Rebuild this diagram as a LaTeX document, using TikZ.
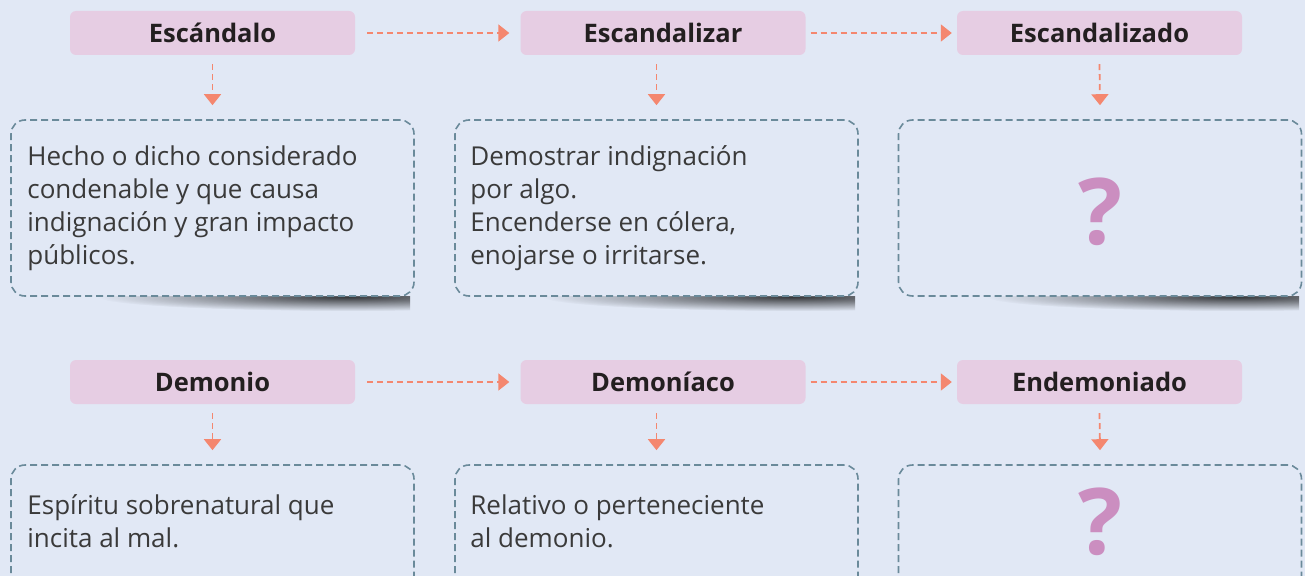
\documentclass[tikz,border=0pt]{standalone}
\usepackage{fontspec}
\setmainfont{Open Sans}
\usetikzlibrary{arrows.meta,fadings}
\definecolor{bg}{HTML}{E1E8F5}
\definecolor{hdr}{HTML}{E6CDE3}
\definecolor{arr}{HTML}{F4876F}
\definecolor{bord}{HTML}{6A8A9A}
\definecolor{qm}{HTML}{CB8EC0}
\definecolor{txt}{HTML}{3A3A3A}
\definecolor{htxt}{HTML}{231F20}
\tikzfading[name=shfade, inner color=transparent!0, outer color=transparent!100]
\begin{document}
\begin{tikzpicture}[x=1pt,y=-1pt,
  hdrbox/.style={fill=hdr, rounded corners=6pt, minimum width=285pt, minimum height=44pt,
    inner sep=0pt, text=htxt, font=\bfseries\fontsize{25.5}{30}\selectfont},
  descbox/.style={draw=bord, fill=bg, line width=1.6pt, dash pattern=on 7pt off 4pt,
    rounded corners=14pt, minimum width=403pt, minimum height=176pt, inner sep=0pt},
  desctext/.style={anchor=north west, inner sep=0pt, align=left, text=txt,
    font=\fontsize{26}{33}\selectfont},
  qmark/.style={text=qm, inner sep=0pt, font=\bfseries\fontsize{92}{92}\selectfont},
  flow/.style={draw=arr, line width=1.8pt, dash pattern=on 6pt off 4pt,
    -{Triangle[width=17pt,length=11pt]}},
  shadowfill/.style={fill=black, opacity=0.75, path fading=shfade}
]
\path[use as bounding box] (0,0) rectangle (1305,575);
\clip (-2,-2) rectangle (1307,577);
\fill[bg] (-2,-2) rectangle (1307,577);

% headers
\node[hdrbox] (h1) at (212.5,33) {Escándalo};
\node[hdrbox] (h2) at (663,33) {Escandalizar};
\node[hdrbox] (h3) at (1099.5,33) {Escandalizado};
\node[hdrbox] (h4) at (212.5,382) {Demonio};
\node[hdrbox] (h5) at (663,382) {Demoníaco};
\node[hdrbox] (h6) at (1099.5,382) {Endemoniado};

% shadows under top row boxes
\foreach \cx in {413,858,1302}{
  \begin{scope}
    \clip (\cx-330,296) rectangle (\cx-3,320);
    \fill[shadowfill] (\cx-65,297) ellipse [x radius=250pt, y radius=14pt];
  \end{scope}
}

% description boxes
\node[descbox] (d1) at (212.5,208) {};
\node[descbox] (d2) at (656.5,208) {};
\node[descbox] (d3) at (1100,208) {};
\node[descbox] (d4) at (212.5,553) {};
\node[descbox] (d5) at (656.5,553) {};
\node[descbox] (d6) at (1100,553) {};

% texts
\node[desctext] (t1) at ([xshift=17pt,yshift=-26pt]d1.north west)
  {Hecho o dicho considerado\\condenable y que causa\\indignación y gran impacto\\públicos.};
\node[desctext] (t2) at ([xshift=16pt,yshift=-26pt]d2.north west)
  {Demostrar indignación\\por algo.\\Encenderse en cólera,\\enojarse o irritarse.};
\node[desctext] (t4) at ([xshift=17pt,yshift=-30.5pt]d4.north west)
  {Espíritu sobrenatural que\\incita al mal.};
\node[desctext] (t5) at ([xshift=16pt,yshift=-30.5pt]d5.north west)
  {Relativo o perteneciente\\al demonio.};
\node[qmark] (q3) at (1100,212) {?};
\node[qmark] (q6) at (1100,522) {?};

% connectors
\draw[flow] ([xshift=12pt]h1.east) -- ([xshift=-11pt]h2.west);
\draw[flow] ([xshift=5pt]h2.east) -- ([xshift=-5pt]h3.west);
\draw[flow] ([xshift=12pt]h4.east) -- ([xshift=-11pt]h5.west);
\draw[flow] ([xshift=5pt]h5.east) -- ([xshift=-5pt]h6.west);
\draw[flow] ([yshift=-9pt]h1.south) -- ([yshift=14pt]d1.north);
\draw[flow] ([yshift=-9pt]h2.south -| d2.north) -- ([yshift=14pt]d2.north);
\draw[flow] ([yshift=-9pt]h3.south) -- ([yshift=14pt]d3.north);
\draw[flow] ([yshift=-9pt]h4.south) -- ([yshift=14pt]d4.north);
\draw[flow] ([yshift=-9pt]h5.south -| d5.north) -- ([yshift=14pt]d5.north);
\draw[flow] ([yshift=-9pt]h6.south) -- ([yshift=14pt]d6.north);
\end{tikzpicture}
\end{document}
